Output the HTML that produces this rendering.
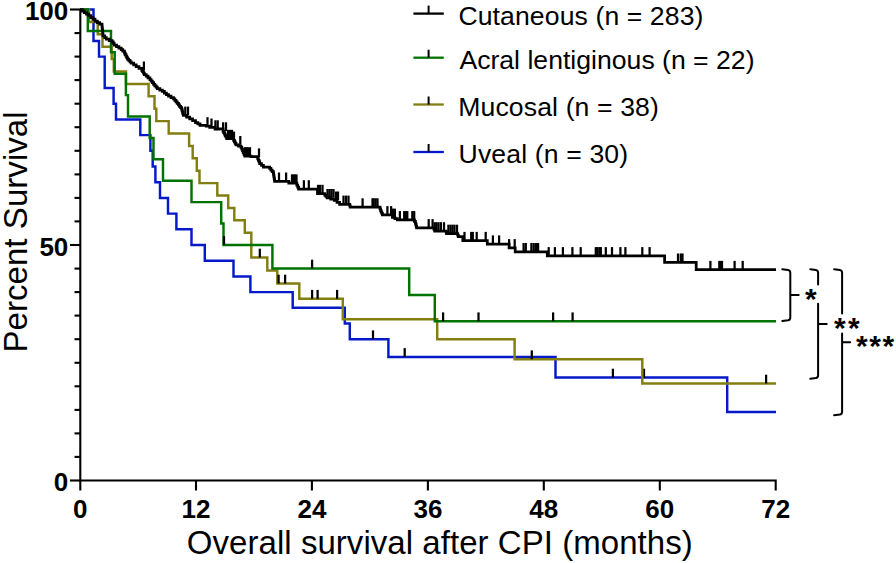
<!DOCTYPE html>
<html><head><meta charset="utf-8"><title>Kaplan-Meier survival</title>
<style>html,body{margin:0;padding:0;background:#fff;}svg{display:block;}</style>
</head><body>
<svg width="896" height="563" viewBox="0 0 896 563"><rect width="896" height="563" fill="#fff"/><g stroke="#000" stroke-width="2.1" fill="none" stroke-linecap="butt"><path d="M80.3,9.5 V480.5 H775.7 V490.5"/><line x1="70" y1="9.5" x2="80.3" y2="9.5"/><line x1="70" y1="245.0" x2="80.3" y2="245.0"/><line x1="70" y1="480.5" x2="80.3" y2="480.5"/><line x1="74.5" y1="456.9" x2="80.3" y2="456.9"/><line x1="74.5" y1="433.4" x2="80.3" y2="433.4"/><line x1="74.5" y1="409.9" x2="80.3" y2="409.9"/><line x1="74.5" y1="386.3" x2="80.3" y2="386.3"/><line x1="74.5" y1="362.8" x2="80.3" y2="362.8"/><line x1="74.5" y1="339.2" x2="80.3" y2="339.2"/><line x1="74.5" y1="315.6" x2="80.3" y2="315.6"/><line x1="74.5" y1="292.1" x2="80.3" y2="292.1"/><line x1="74.5" y1="268.6" x2="80.3" y2="268.6"/><line x1="74.5" y1="221.4" x2="80.3" y2="221.4"/><line x1="74.5" y1="197.9" x2="80.3" y2="197.9"/><line x1="74.5" y1="174.4" x2="80.3" y2="174.4"/><line x1="74.5" y1="150.8" x2="80.3" y2="150.8"/><line x1="74.5" y1="127.2" x2="80.3" y2="127.2"/><line x1="74.5" y1="103.7" x2="80.3" y2="103.7"/><line x1="74.5" y1="80.1" x2="80.3" y2="80.1"/><line x1="74.5" y1="56.6" x2="80.3" y2="56.6"/><line x1="74.5" y1="33.1" x2="80.3" y2="33.1"/><line x1="80.3" y1="480.5" x2="80.3" y2="490.5"/><line x1="196.0" y1="480.5" x2="196.0" y2="490.5"/><line x1="311.9" y1="480.5" x2="311.9" y2="490.5"/><line x1="427.9" y1="480.5" x2="427.9" y2="490.5"/><line x1="543.8" y1="480.5" x2="543.8" y2="490.5"/><line x1="659.8" y1="480.5" x2="659.8" y2="490.5"/></g><path d="M80,9.5 H93.5 V40.9 H99 V56.6 H104.7 V88 H113.6 V103.7 H116 V119.4 H140.3 V135.1 H150.4 V150.8 H152.7 V166.5 H155.4 V182.2 H160 V197.9 H168 V213.6 H176.4 V229.3 H191.5 V245 H204.8 V260.7 H233.5 V276.4 H250.4 V292.1 H292.7 V307.8 H344.8 V323.5 H349.8 V339.2 H388.4 V356.9 H555.5 V377.5 H727.2 V412 H776" stroke="#0519c8" stroke-width="2.45" fill="none" stroke-linejoin="miter" stroke-linecap="butt"/><g stroke="#000" stroke-width="2.25"><line x1="373.0" y1="339.2" x2="373.0" y2="330.4"/><line x1="404.7" y1="356.9" x2="404.7" y2="348.1"/><line x1="612.9" y1="377.5" x2="612.9" y2="368.7"/><line x1="644.0" y1="377.5" x2="644.0" y2="368.7"/></g><path d="M80,9.5 H89 V21.9 H97.7 V34.3 H102.5 V46.7 H111.7 V59.1 H113.8 V71.5 H126 V83.9 H148.6 V96.3 H154.5 V108.7 H156.3 V121.1 H168.7 V133.5 H189.1 V145.9 H192.7 V158.3 H196.8 V170.7 H199.5 V183.1 H217.3 V195.5 H228.2 V207.9 H234.3 V220.3 H244.8 V232.7 H251.3 V257.5 H267.3 V270.5 H277.3 V283.5 H299.3 V298.7 H342.8 V319.2 H437.2 V339.2 H514.6 V359.2 H642.3 V383.5 H776" stroke="#827e10" stroke-width="2.45" fill="none" stroke-linejoin="miter" stroke-linecap="butt"/><g stroke="#000" stroke-width="2.25"><line x1="259.8" y1="257.5" x2="259.8" y2="248.7"/><line x1="278.6" y1="283.5" x2="278.6" y2="274.7"/><line x1="285.1" y1="283.5" x2="285.1" y2="274.7"/><line x1="312.1" y1="298.7" x2="312.1" y2="289.9"/><line x1="317.6" y1="298.7" x2="317.6" y2="289.9"/><line x1="337.1" y1="298.7" x2="337.1" y2="289.9"/><line x1="531.8" y1="359.2" x2="531.8" y2="350.4"/><line x1="766.1" y1="383.5" x2="766.1" y2="374.7"/></g><path d="M80,9.5 H87.8 V30.9 H111 V52.3 H114.7 V73.7 H125.9 V95.1 H128 V116.5 H149.7 V137.9 H153.5 V159.3 H163 V180.7 H191.5 V202.1 H221.2 V223.5 H223.5 V245 H272.4 V268.5 H409.2 V295 H434.8 V321.2 H776" stroke="#007200" stroke-width="2.45" fill="none" stroke-linejoin="miter" stroke-linecap="butt"/><g stroke="#000" stroke-width="2.25"><line x1="224.0" y1="245.0" x2="224.0" y2="236.2"/><line x1="312.1" y1="268.5" x2="312.1" y2="259.7"/><line x1="443.1" y1="321.2" x2="443.1" y2="312.4"/><line x1="478.5" y1="321.2" x2="478.5" y2="312.4"/><line x1="553.1" y1="321.2" x2="553.1" y2="312.4"/><line x1="572.6" y1="321.2" x2="572.6" y2="312.4"/></g><path d="M80.0,9.5 H82.2V11.1 H84.3V12.6 H86.5V14.1 H88.7V15.7 H90.8V17.5 H92.9V19.2 H95.0V21.0 H97.3V22.6 H99.7V24.2 H102.0V25.8 H102.2V27.5 H102.3V29.2 H102.5V30.9 H102.7V32.5 H102.8V34.2 H103.0V35.9 H104.7V37.5 H106.3V39.1 H109.2V40.5 H112.1V41.8 H113.2V43.4 H114.2V45.0 H116.5V46.5 H118.9V48.0 H121.2V49.5 H122.8V51.2 H124.5V53.0 H125.2V54.5 H126.0V56.0 H126.8V57.5 H127.5V59.0 H128.7V60.4 H130.0V61.8 H131.2V63.2 H133.7V64.8 H136.2V66.5 H139.0V68.4 H141.8V70.3 H142.6V71.7 H143.5V73.1 H144.3V74.5 H146.2V76.2 H148.0V77.8 H149.9V79.5 H151.1V81.1 H152.4V82.7 H153.6V84.3 H154.8V85.8 H156.1V87.2 H157.3V88.7 H159.8V90.1 H162.3V91.4 H164.4V93.0 H166.4V94.6 H168.5V96.2 H171.0V97.5 H173.5V98.8 H174.8V100.3 H176.0V101.8 H177.2V103.3 H178.5V104.8 H179.5V106.3 H180.6V107.7 H181.6V109.2 H182.1V110.8 H182.5V112.3 H182.9V113.9 H183.4V115.4 H186.6V117.1 H189.7V118.8 H192.6V120.7 H195.5V122.5 H197.8V123.9 H200.0V125.3 H206.2V126.0 H209.7V127.3 H215.1V129.1 H218.7V128.8 H223.0V131.1 H223.7V132.6 H224.5V134.1 H225.2V135.6 H226.0V137.1 H226.7V138.6 H233.6V140.4 H234.4V141.9 H235.2V143.3 H236.0V144.8 H238.5V146.1 H241.0V147.3 H241.8V149.0 H242.5V150.8 H243.3V152.5 H244.0V154.3 H244.8V156.0 H251.0V156.6 H257.2V157.2 H257.8V158.8 H258.4V160.3 H259.1V161.9 H259.7V163.5 H261.5V165.3 H263.4V167.2 H269.7V168.4 H270.9V170.1 H272.2V171.7 H273.4V173.4 H273.6V175.0 H273.9V176.6 H274.1V178.1 H274.4V179.7 H274.6V181.3 H288.8 V183.2 H295.9 H296.8V185.1 H297.7V187.1 H298.6V189.0 H317.5 V193.6 H323.6 H324.8V195.0 H325.9V196.4 H327.1V197.8 H330.7V199.1 H334.3V200.3 H337.0V202.4 H339.6V204.4 H349.3 H349.8V205.8 H350.2V207.1 H379.3 H380.0V208.8 H380.6V210.5 H381.2V212.0 H381.8V213.4 H382.4V214.9 H392.4 H392.4V216.2 H392.4V217.4 H394.9V218.7 H397.4V219.9 H413.5 H414.4V221.4 H415.4V223.0 H415.8V224.6 H416.2V226.3 H416.6V227.9 H433.4 H434.0V229.4 H434.7V231.0 H445.9 H446.2V232.2 H446.5V233.5 H457.1 H457.7V235.1 H458.3V236.6 H462.8 V240.7 H487.3 V244.2 H509.1 V247.9 H515.2 V251.8 H547.3 V255.9 H664.6 V262.3 H696.2 V269.7 H776.0" stroke="#000" stroke-width="2.75" fill="none" stroke-linejoin="miter" stroke-linecap="butt"/><g stroke="#000" stroke-width="2.25"><line x1="143.9" y1="70.3" x2="143.9" y2="61.5"/><line x1="185.3" y1="115.4" x2="185.3" y2="106.6"/><line x1="188.0" y1="115.4" x2="188.0" y2="106.6"/><line x1="207.5" y1="126.0" x2="207.5" y2="117.2"/><line x1="211.5" y1="127.3" x2="211.5" y2="118.5"/><line x1="215.4" y1="129.1" x2="215.4" y2="120.3"/><line x1="217.7" y1="129.1" x2="217.7" y2="120.3"/><line x1="223.1" y1="131.1" x2="223.1" y2="122.3"/><line x1="226.0" y1="131.1" x2="226.0" y2="122.3"/><line x1="228.0" y1="138.6" x2="228.0" y2="129.8"/><line x1="230.0" y1="138.6" x2="230.0" y2="129.8"/><line x1="232.0" y1="138.6" x2="232.0" y2="129.8"/><line x1="234.0" y1="140.4" x2="234.0" y2="131.6"/><line x1="240.3" y1="144.8" x2="240.3" y2="136.0"/><line x1="245.0" y1="156.0" x2="245.0" y2="147.2"/><line x1="246.5" y1="156.0" x2="246.5" y2="147.2"/><line x1="248.0" y1="156.0" x2="248.0" y2="147.2"/><line x1="250.0" y1="156.0" x2="250.0" y2="147.2"/><line x1="259.0" y1="157.2" x2="259.0" y2="148.4"/><line x1="279.0" y1="181.3" x2="279.0" y2="172.5"/><line x1="286.1" y1="181.3" x2="286.1" y2="172.5"/><line x1="292.0" y1="183.2" x2="292.0" y2="174.4"/><line x1="293.5" y1="183.2" x2="293.5" y2="174.4"/><line x1="295.0" y1="183.2" x2="295.0" y2="174.4"/><line x1="296.5" y1="183.2" x2="296.5" y2="174.4"/><line x1="303.9" y1="189.0" x2="303.9" y2="180.2"/><line x1="308.8" y1="189.0" x2="308.8" y2="180.2"/><line x1="318.0" y1="193.6" x2="318.0" y2="184.8"/><line x1="320.0" y1="193.6" x2="320.0" y2="184.8"/><line x1="322.5" y1="193.6" x2="322.5" y2="184.8"/><line x1="327.5" y1="197.8" x2="327.5" y2="189.0"/><line x1="329.5" y1="197.8" x2="329.5" y2="189.0"/><line x1="331.5" y1="197.8" x2="331.5" y2="189.0"/><line x1="333.5" y1="197.8" x2="333.5" y2="189.0"/><line x1="336.0" y1="200.3" x2="336.0" y2="191.5"/><line x1="338.0" y1="200.3" x2="338.0" y2="191.5"/><line x1="343.5" y1="204.4" x2="343.5" y2="195.6"/><line x1="346.0" y1="204.4" x2="346.0" y2="195.6"/><line x1="348.5" y1="204.4" x2="348.5" y2="195.6"/><line x1="362.6" y1="207.1" x2="362.6" y2="198.3"/><line x1="372.5" y1="207.1" x2="372.5" y2="198.3"/><line x1="373.7" y1="207.1" x2="373.7" y2="198.3"/><line x1="375.6" y1="207.1" x2="375.6" y2="198.3"/><line x1="377.5" y1="207.1" x2="377.5" y2="198.3"/><line x1="387.4" y1="214.9" x2="387.4" y2="206.1"/><line x1="391.1" y1="214.9" x2="391.1" y2="206.1"/><line x1="393.0" y1="217.4" x2="393.0" y2="208.6"/><line x1="394.9" y1="217.4" x2="394.9" y2="208.6"/><line x1="399.9" y1="219.9" x2="399.9" y2="211.1"/><line x1="404.2" y1="219.9" x2="404.2" y2="211.1"/><line x1="406.1" y1="219.9" x2="406.1" y2="211.1"/><line x1="407.3" y1="219.9" x2="407.3" y2="211.1"/><line x1="412.3" y1="219.9" x2="412.3" y2="211.1"/><line x1="414.2" y1="219.9" x2="414.2" y2="211.1"/><line x1="428.7" y1="227.9" x2="428.7" y2="219.1"/><line x1="432.6" y1="227.9" x2="432.6" y2="219.1"/><line x1="434.7" y1="231.0" x2="434.7" y2="222.2"/><line x1="436.5" y1="231.0" x2="436.5" y2="222.2"/><line x1="438.5" y1="231.0" x2="438.5" y2="222.2"/><line x1="440.9" y1="231.0" x2="440.9" y2="222.2"/><line x1="444.0" y1="231.0" x2="444.0" y2="222.2"/><line x1="448.4" y1="233.5" x2="448.4" y2="224.7"/><line x1="450.5" y1="233.5" x2="450.5" y2="224.7"/><line x1="452.5" y1="233.5" x2="452.5" y2="224.7"/><line x1="454.5" y1="233.5" x2="454.5" y2="224.7"/><line x1="457.0" y1="233.5" x2="457.0" y2="224.7"/><line x1="464.5" y1="240.7" x2="464.5" y2="231.9"/><line x1="471.2" y1="240.7" x2="471.2" y2="231.9"/><line x1="472.8" y1="240.7" x2="472.8" y2="231.9"/><line x1="476.7" y1="240.7" x2="476.7" y2="231.9"/><line x1="485.7" y1="240.7" x2="485.7" y2="231.9"/><line x1="492.9" y1="244.2" x2="492.9" y2="235.4"/><line x1="499.1" y1="244.2" x2="499.1" y2="235.4"/><line x1="509.1" y1="247.9" x2="509.1" y2="239.1"/><line x1="514.7" y1="247.9" x2="514.7" y2="239.1"/><line x1="523.6" y1="251.8" x2="523.6" y2="243.0"/><line x1="525.8" y1="251.8" x2="525.8" y2="243.0"/><line x1="531.4" y1="251.8" x2="531.4" y2="243.0"/><line x1="533.7" y1="251.8" x2="533.7" y2="243.0"/><line x1="535.9" y1="251.8" x2="535.9" y2="243.0"/><line x1="538.1" y1="251.8" x2="538.1" y2="243.0"/><line x1="548.7" y1="255.9" x2="548.7" y2="247.1"/><line x1="554.9" y1="255.9" x2="554.9" y2="247.1"/><line x1="562.9" y1="255.9" x2="562.9" y2="247.1"/><line x1="572.4" y1="255.9" x2="572.4" y2="247.1"/><line x1="580.7" y1="255.9" x2="580.7" y2="247.1"/><line x1="595.8" y1="255.9" x2="595.8" y2="247.1"/><line x1="597.5" y1="255.9" x2="597.5" y2="247.1"/><line x1="599.5" y1="255.9" x2="599.5" y2="247.1"/><line x1="600.8" y1="255.9" x2="600.8" y2="247.1"/><line x1="605.8" y1="255.9" x2="605.8" y2="247.1"/><line x1="612.0" y1="255.9" x2="612.0" y2="247.1"/><line x1="620.4" y1="255.9" x2="620.4" y2="247.1"/><line x1="625.4" y1="255.9" x2="625.4" y2="247.1"/><line x1="642.3" y1="255.9" x2="642.3" y2="247.1"/><line x1="649.6" y1="255.9" x2="649.6" y2="247.1"/><line x1="678.0" y1="262.3" x2="678.0" y2="253.5"/><line x1="680.8" y1="262.3" x2="680.8" y2="253.5"/><line x1="682.5" y1="262.3" x2="682.5" y2="253.5"/><line x1="710.4" y1="269.7" x2="710.4" y2="260.9"/><line x1="719.3" y1="269.7" x2="719.3" y2="260.9"/><line x1="720.6" y1="269.7" x2="720.6" y2="260.9"/><line x1="722.0" y1="269.7" x2="722.0" y2="260.9"/><line x1="734.6" y1="269.7" x2="734.6" y2="260.9"/><line x1="742.7" y1="269.7" x2="742.7" y2="260.9"/></g><line x1="413.4" y1="13.6" x2="443.8" y2="13.6" stroke="#000" stroke-width="2.3"/><line x1="428.6" y1="13.6" x2="428.6" y2="5.6" stroke="#000" stroke-width="2"/><text x="458.4" y="25.3" textLength="245.0" lengthAdjust="spacing" font-family='"Liberation Sans", sans-serif' font-size="26.6" fill="#000">Cutaneous (n = 283)</text><line x1="413.4" y1="57.7" x2="443.8" y2="57.7" stroke="#007200" stroke-width="2.3"/><line x1="428.6" y1="57.7" x2="428.6" y2="49.7" stroke="#000" stroke-width="2"/><text x="459.4" y="69.0" textLength="295.1" lengthAdjust="spacing" font-family='"Liberation Sans", sans-serif' font-size="26.6" fill="#000">Acral lentiginous (n = 22)</text><line x1="413.4" y1="104.5" x2="443.8" y2="104.5" stroke="#827e10" stroke-width="2.3"/><line x1="428.6" y1="104.5" x2="428.6" y2="96.5" stroke="#000" stroke-width="2"/><text x="458.2" y="115.9" textLength="200.7" lengthAdjust="spacing" font-family='"Liberation Sans", sans-serif' font-size="26.6" fill="#000">Mucosal (n = 38)</text><line x1="413.4" y1="152" x2="443.8" y2="152" stroke="#0519c8" stroke-width="2.3"/><line x1="428.6" y1="152" x2="428.6" y2="144" stroke="#000" stroke-width="2"/><text x="458.6" y="163.3" textLength="169.5" lengthAdjust="spacing" font-family='"Liberation Sans", sans-serif' font-size="26.6" fill="#000">Uveal (n = 30)</text><g stroke="#000" stroke-width="2" fill="none" stroke-linecap="round"><path d="M782.3,269.3 L788.0,269.90000000000003 Q790.3,270.3 790.3,272.8 V317.4 Q790.3,319.9 788.0,320.29999999999995 L782.3,320.9 M790.3,294.9 H798.7"/><path d="M810.3,269.3 L815.8000000000001,269.90000000000003 Q818.1,270.3 818.1,272.8 V284.5 M818.1,303.8 V375.2 Q818.1,377.7 815.8000000000001,378.09999999999997 L810.3,378.7 M818.1,324.0 H826.7"/><path d="M834.1,269.3 L839.8000000000001,269.90000000000003 Q842.1,270.3 842.1,272.8 V313.6 M842.1,333.6 V411.7 Q842.1,414.2 839.8000000000001,414.59999999999997 L834.1,415.2 M842.1,342.2 H850.2"/></g><text x="68.3" y="20.0" text-anchor="end" font-family='"Liberation Sans", sans-serif' font-weight="bold" font-size="26">100</text><text x="68.3" y="255.6" text-anchor="end" font-family='"Liberation Sans", sans-serif' font-weight="bold" font-size="26">50</text><text x="68.3" y="491.0" text-anchor="end" font-family='"Liberation Sans", sans-serif' font-weight="bold" font-size="26">0</text><text x="80.3" y="517.8" text-anchor="middle" font-family='"Liberation Sans", sans-serif' font-weight="bold" font-size="26">0</text><text x="196.0" y="517.8" text-anchor="middle" font-family='"Liberation Sans", sans-serif' font-weight="bold" font-size="26">12</text><text x="311.9" y="517.8" text-anchor="middle" font-family='"Liberation Sans", sans-serif' font-weight="bold" font-size="26">24</text><text x="427.9" y="517.8" text-anchor="middle" font-family='"Liberation Sans", sans-serif' font-weight="bold" font-size="26">36</text><text x="543.8" y="517.8" text-anchor="middle" font-family='"Liberation Sans", sans-serif' font-weight="bold" font-size="26">48</text><text x="659.8" y="517.8" text-anchor="middle" font-family='"Liberation Sans", sans-serif' font-weight="bold" font-size="26">60</text><text x="775.7" y="517.8" text-anchor="middle" font-family='"Liberation Sans", sans-serif' font-weight="bold" font-size="26">72</text><text x="805" y="309" font-family='"Liberation Sans", sans-serif' font-weight="bold" font-size="30">*</text><text x="834" y="338.3" textLength="25.7" lengthAdjust="spacing" font-family='"Liberation Sans", sans-serif' font-weight="bold" font-size="30">**</text><text x="856" y="356" textLength="38.2" lengthAdjust="spacing" font-family='"Liberation Sans", sans-serif' font-weight="bold" font-size="30">***</text><text x="186.8" y="554.2" textLength="505.9" lengthAdjust="spacing" font-family='"Liberation Sans", sans-serif' font-size="33">Overall survival after CPI (months)</text><text transform="translate(26.6,352.5) rotate(-90)" x="0" y="0" textLength="241.1" lengthAdjust="spacing" font-family='"Liberation Sans", sans-serif' font-size="33">Percent Survival</text></svg>
</body></html>
